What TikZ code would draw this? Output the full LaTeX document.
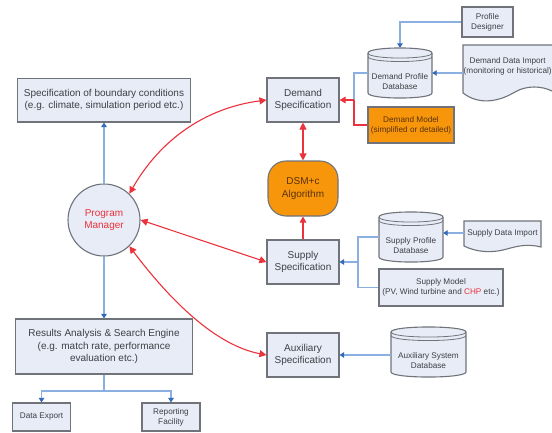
\documentclass[tikz,border=0pt]{standalone}
\usepackage{fontspec}
\setmainfont{Liberation Sans}
\usetikzlibrary{arrows.meta}
\definecolor{boxfill}{RGB}{231,236,246}
\definecolor{boxline}{RGB}{112,116,122}
\definecolor{txt}{RGB}{62,64,70}
\definecolor{bl}{RGB}{140,175,225}
\definecolor{blh}{RGB}{50,105,185}
\definecolor{rd}{RGB}{236,50,60}
\definecolor{orng}{RGB}{247,150,10}
\definecolor{orngtxt}{RGB}{90,50,10}
\tikzset{
  box/.style={draw=boxline,fill=boxfill,line width=1.1pt,inner sep=0pt,align=center,text=txt,font=\fontsize{10}{12.3}\selectfont},
  smallbox/.style={box,font=\fontsize{8.2}{10}\selectfont},
  orangebox/.style={box,fill=orng,text=orngtxt},
  label/.style={inner sep=0pt,align=center,text=txt,font=\fontsize{8.2}{10}\selectfont},
  shapeline/.style={draw=boxline,fill=boxfill,line width=1.1pt},
  blueline/.style={draw=bl,line width=1.1pt},
  bluearrow/.style={blueline,-{Triangle[length=4.5pt,width=5.5pt,color=blh]}},
  redline/.style={draw=rd,line width=1.1pt},
  redarrow/.style={redline,-{Triangle[length=6pt,width=6.5pt]}},
  redboth/.style={redline,{Triangle[length=7pt,width=7pt]}-{Triangle[length=7pt,width=7pt]}},
}
\newcommand{\dbshape}[4]{%
  \path[shapeline] (#1,#3+5) -- (#1,#4-5) .. controls (#1,#4+1.7) and (#2,#4+1.7) .. (#2,#4-5)
     -- (#2,#3+5) .. controls (#2,#3-1.7) and (#1,#3-1.7) .. cycle;
  \draw[boxline,line width=.8pt] (#1,#3+5) .. controls (#1,#3+11.7) and (#2,#3+11.7) .. (#2,#3+5);
  \draw[boxline,line width=.8pt] (#1,#3+8.5) .. controls (#1,#3+15.2) and (#2,#3+15.2) .. (#2,#3+8.5);
}
\begin{document}
\begin{tikzpicture}[x=1pt,y=-1pt]
\useasboundingbox[fill=white] (0,0) rectangle (552,432);
% shapes with custom outlines
\dbshape{368}{432}{48}{98}
\dbshape{379}{443}{212}{262}
\dbshape{391}{466}{327}{377}
\path[shapeline] (552,45) -- (463,45) -- (463,93) .. controls (480,106) and (500,101) .. (515,92) .. controls (527,85) and (542,86) .. (552,91);
\path[shapeline] (464,221) -- (541,221) -- (541,247) .. controls (525,243) and (515,247) .. (503,250) .. controls (490,253) and (476,252) .. (464,246) -- cycle;
% boxes
\node[box,minimum width=173.5pt,minimum height=43.5pt] (boundary) at (104,100.25) {Specification of boundary conditions\\(e.g. climate, simulation period etc.)};
\node[box,circle,minimum size=72pt] (manager) at (104,220) {\textcolor{rd}{Program}\\\textcolor{rd}{Manager}};
\node[box,minimum width=72pt,minimum height=44pt] (demand) at (303,100) {Demand\\Specification};
\node[orangebox,rounded corners=18pt,minimum width=70pt,minimum height=55pt] (dsm) at (303,188.5) {DSM+c\\Algorithm};
\node[box,minimum width=72pt,minimum height=44pt] (supply) at (303,262) {Supply\\Specification};
\node[box,minimum width=72pt,minimum height=44pt] (aux) at (303,355) {Auxiliary\\Specification};
\node[box,minimum width=177pt,minimum height=55pt] (results) at (104,346.5) {Results Analysis \& Search Engine\\(e.g. match rate, performance\\evaluation etc.)};
\node[smallbox,minimum width=58pt,minimum height=28pt] (export) at (41.5,417) {Data Export};
\node[smallbox,minimum width=58pt,minimum height=28pt] (report) at (171,417) {Reporting\\Facility};
\node[smallbox,minimum width=51pt,minimum height=30pt] (designer) at (487.5,22) {Profile\\Designer};
\node[smallbox,fill=orng,text=orngtxt,minimum width=86pt,minimum height=36pt] (model) at (411,125) {Demand Model\\(simplified or detailed)};
\node[smallbox,minimum width=124pt,minimum height=37pt] (supmodel) at (441,287.5) {Supply Model\\(PV, Wind turbine and \textcolor{rd}{CHP} etc.)};
% text on custom outlines
\node[label,minimum width=64pt,minimum height=50pt] (demdb) at (400,73) {\\[14pt]Demand Profile\\Database};
\node[label,minimum width=64pt,minimum height=50pt] (supdb) at (411,237) {\\[14pt]Supply Profile\\Database};
\node[label,minimum width=75pt,minimum height=50pt] (auxdb) at (428.5,352) {\\[14pt]Auxiliary System\\Database};
\node[label,minimum width=89pt,minimum height=30pt,anchor=north west] (demimp) at (463,51) {Demand Data Import\\(monitoring or historical)};
\node[label,minimum width=77pt,minimum height=26pt] (supimp) at (502.5,233) {Supply Data Import};
\coordinate (dj) at (354,100);
\coordinate (sj) at (358,262);
\coordinate (rj) at (104,391);
% connectors
\draw[bluearrow] (manager) -- (boundary);
\draw[bluearrow] (manager) -- (results);
\draw[blueline] (results.south) -- (rj);
\draw[bluearrow] (rj) -| (export.north);
\draw[bluearrow] (rj) -| (report.north);
\draw[bluearrow] (designer.west) -| (demdb.north);
\draw[bluearrow] (demimp.west |- demdb.west) -- (demdb.east);
\draw[blueline] (demdb.west) -| (dj);
\draw[redline] (model.west) -| (dj);
\draw[redarrow] (dj) -- (demand.east);
\draw[redboth] (demand) -- (dsm);
\draw[redarrow] (supply) -- (dsm);
\draw[blueline] (supdb.west) -| (sj);
\draw[blueline] (supmodel.west) -| (sj);
\draw[bluearrow] (sj) -- (supply.east);
\draw[bluearrow] (supimp.west) -- (supdb.east |- supimp.west);
\draw[bluearrow] (auxdb.west |- aux.east) -- (aux.east);
\draw[redboth] (demand.west) .. controls (205,108) and (160,140) .. (manager.46);
\draw[redboth] (supply.west) -- (manager.east);
\draw[redboth] (aux.west) .. controls (215,345) and (170,300) .. (manager.-46);
\end{tikzpicture}
\end{document}
